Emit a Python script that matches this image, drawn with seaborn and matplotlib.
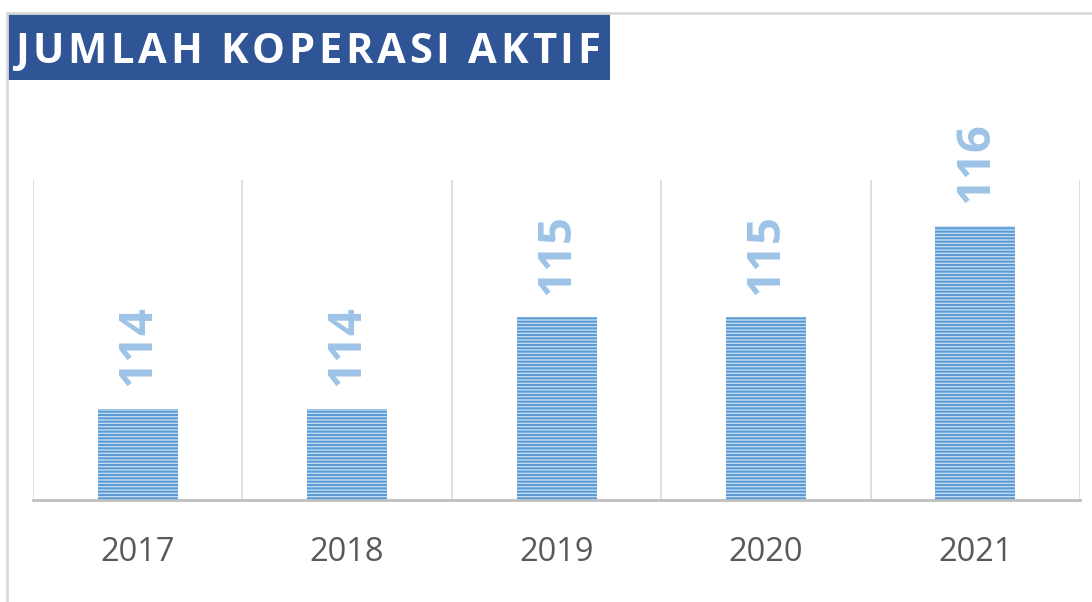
import matplotlib
matplotlib.use("Agg")
import matplotlib.pyplot as plt
import seaborn as sns
import pandas as pd
from matplotlib.patches import Rectangle
from matplotlib.lines import Line2D

years = ["2017", "2018", "2019", "2020", "2021"]
values = [114, 114, 115, 115, 116]
title = "JUMLAH KOPERASI AKTIF"

sns.set_theme(style="white")
plt.rcParams['font.family'] = ['Open Sans', 'DejaVu Sans']
plt.rcParams['hatch.linewidth'] = 1.5
plt.rcParams['hatch.color'] = '#5B9BD5'

W, H = 1092, 602
fig = plt.figure(figsize=(W / 100, H / 100), dpi=100)

# axes in pixel coordinates: x 33..1080, y 180..500
ax = fig.add_axes([33 / W, 1 - 500 / H, (1080 - 33) / W, (500 - 180) / H])
df = pd.DataFrame({"year": years, "value": values})
sns.barplot(data=df, x="year", y="value", ax=ax, color="#C9DFF3",
            width=80 / 209.4, saturation=1, edgecolor="#5B9BD5", linewidth=0)
for p in ax.patches:
    p.set_hatch('-----')
    p.set_edgecolor('#5B9BD5')
    p.set_linewidth(0)

ax.set_ylim(113.0, 116.5)
ax.set_xlim(-0.5, len(years) - 0.5)
ax.set_xlabel("")
ax.set_ylabel("")
ax.set_yticks([])
ax.tick_params(axis='x', length=0, pad=26, labelsize=23.5, labelcolor='#595959')
for s in ["top", "right", "left"]:
    ax.spines[s].set_visible(False)
ax.spines["bottom"].set_color("#BFBFBF")
ax.spines["bottom"].set_linewidth(2)

# vertical category gridlines
for i in range(len(years) + 1):
    ax.axvline(i - 0.5, color="#D9D9D9", linewidth=1.2, zorder=0)

# data labels
for i, v in enumerate(values):
    ax.annotate(str(v), xy=(i, v), xytext=(0, 16), textcoords="offset points",
                rotation=90, ha="center", va="bottom", fontsize=34,
                fontweight="bold", color="#9DC3E6", annotation_clip=False)

# outer chart border (top and left)
fig.add_artist(Line2D([7 / W, 7 / W], [1 - 13 / H, 0], color="#D9D9D9", linewidth=2,
                      transform=fig.transFigure))
fig.add_artist(Line2D([7 / W, 1], [1 - 13 / H, 1 - 13 / H], color="#D9D9D9", linewidth=2,
                      transform=fig.transFigure))

# title box
fig.add_artist(Rectangle((8 / W, 1 - 80 / H), (610 - 8) / W, (80 - 14) / H,
                         facecolor="#2F5597", edgecolor="none", transform=fig.transFigure))

# title text with letter spacing (tracking)
renderer = fig.canvas.get_renderer()
tsize = 30
x0, x1 = 15, 600
widths = []
for ch in title:
    t = fig.text(0, 0, ch if ch != " " else "n", fontsize=tsize, fontweight="bold")
    w = t.get_window_extent(renderer).width
    t.remove()
    widths.append(w * (0.4 if ch == " " else 1.0))
track = ((x1 - x0) - sum(widths)) / (len(title) - 1)
x = x0
for ch, w in zip(title, widths):
    if ch != " ":
        fig.text(x / W, 1 - 63 / H, ch, ha="left", va="baseline", color="white",
                 fontsize=tsize, fontweight="bold")
    x += w + track

fig.savefig("out.png", dpi=100)
